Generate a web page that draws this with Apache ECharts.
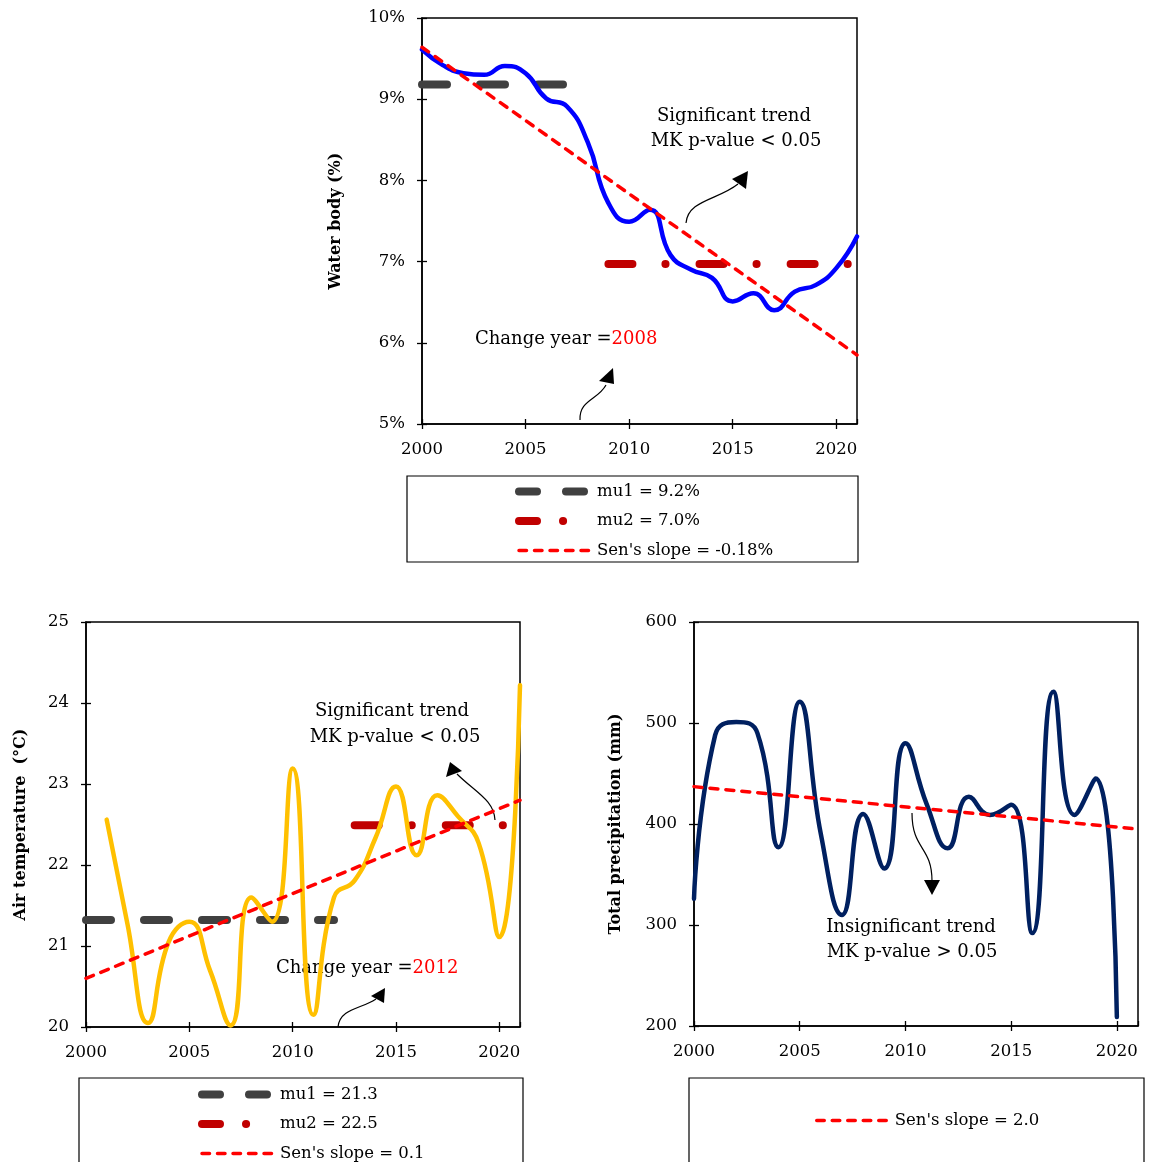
<!DOCTYPE html>
<html><head><meta charset="utf-8">
<script src="https://cdn.jsdelivr.net/npm/echarts@6/dist/echarts.min.js"></script>
<style>html,body{margin:0;padding:0;background:#fff}#c{width:1154px;height:1162px}</style>
</head><body><div id="c"></div>
<script>
// ---------- DATA ----------
const waterYears = [2000,2001,2002,2003,2004,2005,2006,2007,2008,2009,2010,2011,2012,2013,2014,2015,2016,2017,2018,2019,2020,2021];
const waterBody  = [9.61,9.42,9.32,9.30,9.41,9.32,9.01,8.91,8.47,7.72,7.49,7.64,7.08,6.90,6.80,6.51,6.61,6.40,6.63,6.71,6.92,7.31];
const waterMu1Years = [2000, 2008], waterMu1 = 9.18;
const waterMu2Years = [2009, 2021], waterMu2 = 6.97;
const waterSenYears = [2000, 2021], waterSen = [9.64, 5.85];
const waterYTicks = [5, 6, 7, 8, 9, 10];

const tempYears = [2001,2002,2003,2004,2005,2006,2007,2008,2009,2010,2011,2012,2013,2014,2015,2016,2017,2018,2019,2020,2021];
const airTemp   = [22.56,21.28,20.05,21.05,21.30,20.70,20.02,21.60,21.30,23.19,20.15,21.60,21.81,22.33,22.97,22.12,22.86,22.60,22.27,21.11,24.22];
const tempMu1Years = [2000, 2012], tempMu1 = 21.32;
const tempMu2Years = [2013, 2021], tempMu2 = 22.49;
const tempSenYears = [2000, 2021], tempSen = [20.60, 22.80];
const tempYTicks = [20, 21, 22, 23, 24, 25];

const precipYears = [2000,2001,2002,2003,2004,2005,2006,2007,2008,2009,2010,2011,2012,2013,2014,2015,2016,2017,2018,2019,2020];
const precip      = [326,488,501,490,377,521,390,310,410,356,480,420,376,427,409,419,292,531,409,445,209];
const precipSenYears = [2000, 2021], precipSen = [437, 395];
const precipYTicks = [200, 300, 400, 500, 600];

const xTicks = [2000, 2005, 2010, 2015, 2020];
const xMax = 2021;

const legendTop = ['mu1 = 9.2%', 'mu2 = 7.0%', "Sen's slope = -0.18%"];
const legendLeft = ['mu1 = 21.3', 'mu2 = 22.5', "Sen's slope = 0.1"];
const legendRight = ["Sen's slope = 2.0"];

// ---------- STYLE ----------
const FF = "'DejaVu Serif', serif";
const C_MU1 = '#404040', C_MU2 = '#C00000', C_SEN = '#FF0000';
const MU1_DASH = [25, 33], MU2_DASH = [24, 33, 0.1, 34], SEN_DASH = [8, 8];

function pairs(xs, ys) { return xs.map((x, i) => [x, ys[i]]); }
function flat(xs, v) { return xs.map(x => [x, v]); }

const grids = [
  {left: 422, top: 18, width: 435, height: 406},
  {left: 86, top: 622, width: 434, height: 405},
  {left: 694, top: 622, width: 444, height: 404}
];

const xAxis = [], yAxis = [];
function addAxes(gi, yTicks, fmt, name, nameGap) {
  const base = {type: 'value', gridIndex: gi, splitLine: {show: false}};
  xAxis.push(Object.assign({}, base, {
    min: xTicks[0], max: xMax, interval: xTicks[1] - xTicks[0],
    axisLine: {show: true, onZero: false, lineStyle: {color: '#000', width: 1.5}},
    axisTick: {show: true, length: 5, lineStyle: {color: '#000', width: 1.3}},
    axisLabel: {color: '#000', fontFamily: FF, fontSize: 16.5, margin: 17, showMaxLabel: false,
      formatter: v => String(v)}
  }));
  xAxis.push(Object.assign({}, base, {
    min: xTicks[0], max: xMax, interval: xTicks[1] - xTicks[0], position: 'bottom',
    axisLine: {show: false}, axisLabel: {show: false},
    axisTick: {show: true, inside: true, length: 5, lineStyle: {color: '#000', width: 1.3}}
  }));
  yAxis.push(Object.assign({}, base, {
    min: yTicks[0], max: yTicks[yTicks.length - 1], interval: yTicks[1] - yTicks[0],
    axisLine: {show: true, onZero: false, lineStyle: {color: '#000', width: 1.5}},
    axisTick: {show: true, length: 5, lineStyle: {color: '#000', width: 1.3}},
    axisLabel: {color: '#000', fontFamily: FF, fontSize: 16.5, margin: 17, formatter: fmt},
    name: name, nameLocation: 'middle', nameRotate: 90, nameGap: nameGap,
    nameTextStyle: {color: '#000', fontFamily: FF, fontSize: 16, fontWeight: 'bold'}
  }));
  yAxis.push(Object.assign({}, base, {
    min: yTicks[0], max: yTicks[yTicks.length - 1], interval: yTicks[1] - yTicks[0], position: 'left',
    axisLine: {show: false}, axisLabel: {show: false},
    axisTick: {show: true, inside: true, length: 5, lineStyle: {color: '#000', width: 1.3}}
  }));
}
addAxes(0, waterYTicks, '{value}%', 'Water body (%)', 78);
addAxes(1, tempYTicks, '{value}', 'Air temperature  (°C)', 57);
addAxes(2, precipYTicks, '{value}', 'Total precipitation (mm)', 70);

function seg(name, ai, data, color, width, type, z) {
  return {name, type: 'line', xAxisIndex: ai, yAxisIndex: ai, data, symbol: 'none', z, silent: true,
    lineStyle: {color, width, type, cap: 'round'}, itemStyle: {color}};
}
function main(ai, data, color) {
  return {type: 'line', xAxisIndex: ai, yAxisIndex: ai, data, symbol: 'none', smooth: 0.5, z: 3, silent: true,
    lineStyle: {color, width: 4.5, cap: 'round', join: 'round'}, itemStyle: {color}};
}

const series = [
  seg(legendTop[0], 0, flat(waterMu1Years, waterMu1), C_MU1, 8, MU1_DASH, 2),
  seg(legendTop[1], 0, flat(waterMu2Years, waterMu2), C_MU2, 8, MU2_DASH, 2),
  main(0, pairs(waterYears, waterBody), '#0000FF'),
  seg(legendTop[2], 0, pairs(waterSenYears, waterSen), C_SEN, 3.5, SEN_DASH, 4),

  seg(legendLeft[0], 2, flat(tempMu1Years, tempMu1), C_MU1, 8, MU1_DASH, 2),
  seg(legendLeft[1], 2, flat(tempMu2Years, tempMu2), C_MU2, 8, MU2_DASH, 2),
  main(2, pairs(tempYears, airTemp), '#FFC000'),
  seg(legendLeft[2], 2, pairs(tempSenYears, tempSen), C_SEN, 3.5, SEN_DASH, 4),

  main(4, pairs(precipYears, precip), '#002060'),
  seg(legendRight[0], 4, pairs(precipSenYears, precipSen), C_SEN, 3.5, SEN_DASH, 4)
];

function legendItems(names) {
  const styles = [
    {color: C_MU1, width: 8, type: [18, 29], cap: 'round'},
    {color: C_MU2, width: 8, type: [18, 26, 0.1, 60], cap: 'round'},
    {color: C_SEN, width: 3.5, type: [7.5, 8], cap: 'round'}
  ];
  return names.map((n, i) => ({name: n, lineStyle: styles[names.length === 1 ? 2 : i]}));
}
function legend(names, left, top) {
  return {data: legendItems(names), orient: 'vertical', left, top, padding: 0,
    itemWidth: 73, itemHeight: 16, itemGap: 12.5, selectedMode: false,
    itemStyle: {opacity: 0},
    textStyle: {fontFamily: FF, fontSize: 16.5, color: '#000', lineHeight: 16}};
}

const TXT = {font: "18px 'DejaVu Serif'", fill: '#000', align: 'center', verticalAlign: 'middle'};
function text(str, x, y, extra) { return {type: 'text', z: 1, style: Object.assign({}, TXT, {text: str, x, y}, extra || {})}; }
function curve(x1, y1, c1x, c1y, c2x, c2y, x2, y2) {
  return {type: 'bezierCurve', z: 1, shape: {x1, y1, cpx1: c1x, cpy1: c1y, cpx2: c2x, cpy2: c2y, x2, y2},
    style: {stroke: '#000', lineWidth: 1.2, fill: null}};
}
function head(pts) { return {type: 'polygon', z: 1, shape: {points: pts}, style: {fill: '#000'}}; }
function box(x, y, w, h) { return {type: 'rect', z: 1, shape: {x, y, width: w, height: h}, style: {stroke: '#000', lineWidth: 1.2, fill: null}}; }
function changeYear(year, x, y) {
  return {type: 'text', z: 1, style: {text: '{a|Change year =}{b|' + year + '}', x, y, align: 'left', verticalAlign: 'middle',
    font: "18px 'DejaVu Serif'", rich: {a: {fill: '#000', font: "18px 'DejaVu Serif'"}, b: {fill: '#FF0000', font: "18px 'DejaVu Serif'"}}}};
}

const graphic = [
  // top chart annotations
  text('Significant trend', 734, 116), text('MK p-value < 0.05', 736, 141),
  curve(686, 223, 688, 200, 718, 200, 738, 184), head([[748, 171], [732, 179], [746, 189]]),
  changeYear('2008', 475, 339),
  curve(580, 420, 579, 400, 598, 400, 606, 385), head([[613, 368], [599, 381], [614, 384]]),
  box(407, 476, 451, 86),
  // bottom-left annotations
  text('Significant trend', 392, 711), text('MK p-value < 0.05', 395, 737),
  curve(495, 820, 494, 800, 475, 792, 457, 774), head([[450, 762], [446, 777], [462, 771]]),
  changeYear('2012', 276, 968),
  curve(338, 1027, 340, 1008, 362, 1009, 376, 999), head([[385, 988], [371, 996], [384, 1003]]),
  box(79, 1078, 444, 95),
  // bottom-right annotations
  text('Insignificant trend', 911, 927), text('MK p-value > 0.05', 912, 952),
  curve(912, 813, 912, 850, 932, 846, 932, 881), head([[924, 880], [940, 880], [932, 895]]),
  box(689, 1078, 455, 95)
];

const chart = echarts.init(document.getElementById('c'), null, {renderer: 'canvas'});
chart.setOption({
  animation: false,
  backgroundColor: '#fff',
  grid: grids.map(g => Object.assign({show: true, borderColor: '#000', borderWidth: 1.5, backgroundColor: 'transparent', containLabel: false}, g)),
  xAxis, yAxis, series,
  legend: [legend(legendTop, 515, 483), legend(legendLeft, 198, 1086), legend(legendRight, 815, 1112)],
  graphic
});
</script>
</body></html>
